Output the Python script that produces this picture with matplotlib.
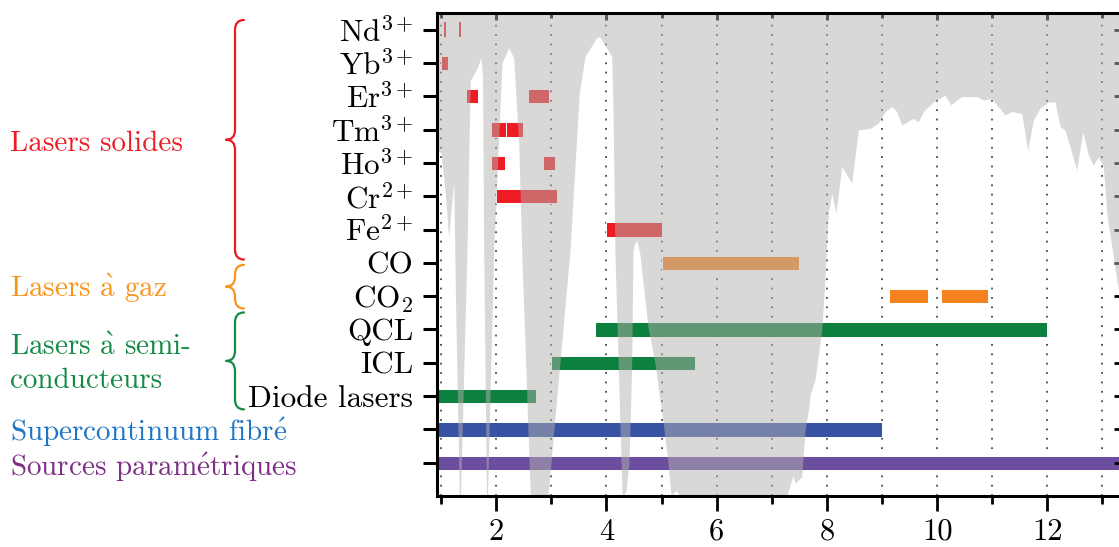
import numpy as np
import matplotlib
matplotlib.use("Agg")
import matplotlib.pyplot as plt
from matplotlib.path import Path
from matplotlib.patches import PathPatch
from matplotlib.ticker import MultipleLocator
import matplotlib.transforms as mtransforms

plt.rcParams['font.family'] = 'cmr10'
plt.rcParams['mathtext.fontset'] = 'cm'
plt.rcParams['axes.formatter.use_mathtext'] = False

# rows, top to bottom
categories = ['Nd$^{3+}$', 'Yb$^{3+}$', 'Er$^{3+}$', 'Tm$^{3+}$', 'Ho$^{3+}$',
              'Cr$^{2+}$', 'Fe$^{2+}$', 'CO', 'CO$_2$', 'QCL', 'ICL',
              'Diode lasers', '', '']

# emission ranges (micrometres) per row
nd_ranges = [(1.05, 1.08), (1.32, 1.365)]
yb_ranges = [(1.0, 1.12)]
er_ranges = [(1.45, 1.66), (2.58, 2.96)]
tm_ranges = [(1.9, 2.185), (2.185, 2.48)]
ho_ranges = [(1.9, 2.16), (2.84, 3.07)]
cr_ranges = [(1.99, 3.11)]
fe_ranges = [(3.99, 5.0)]
co_ranges = [(5.0, 7.5)]
co2_ranges = [(9.13, 9.83), (10.07, 10.93)]
qcl_ranges = [(3.8, 12.0)]
icl_ranges = [(3.0, 5.6)]
diode_ranges = [(0.4, 2.72)]
sc_ranges = [(0.4, 9.0)]
opo_ranges = [(0.4, 14.0)]

# atmospheric transmission (0..1)
trans_x = [0.90, 0.924, 0.996, 1.069, 1.136, 1.187, 1.227, 1.260, 1.328, 1.350,
           1.468, 1.528, 1.637, 1.722, 1.750, 1.771, 1.822, 1.840, 1.953, 2.103,
           2.225, 2.316, 2.407, 2.466, 2.617, 2.938, 3.338, 3.416, 3.506, 3.610,
           3.828, 3.882, 4.094, 4.118, 4.154, 4.281, 4.309, 4.354, 4.408, 4.457,
           4.481, 4.517, 4.554, 4.608, 4.753, 4.880, 5.044, 5.116, 5.171, 5.261,
           5.334, 7.270, 7.385, 7.421, 7.543, 7.603, 7.675, 7.693, 7.784, 7.906,
           7.965, 8.025, 8.087, 8.165, 8.268, 8.450, 8.570, 8.782, 8.933, 9.054,
           9.176, 9.267, 9.358, 9.568, 9.659, 9.750, 9.931, 10.143, 10.247, 10.446,
           10.719, 10.838, 10.991, 11.111, 11.232, 11.354, 11.535, 11.644, 11.746, 11.868,
           12.018, 12.140, 12.231, 12.321, 12.534, 12.643, 12.744, 12.835, 12.926, 13.016,
           13.078, 13.260, 13.41]
trans_t = [0.720, 0.716, 0.710, 0.634, 0.536, 0.602, 0.648, 0.406, 0.0, 0.0,
           0.509, 0.861, 0.882, 0.907, 0.867, 0.509, 0.0, 0.0, 0.509, 0.896,
           0.928, 0.907, 0.731, 0.489, 0.0, 0.0, 0.509, 0.661, 0.834, 0.910,
           0.950, 0.950, 0.910, 0.799, 0.499, 0.006, 0.0, 0.012, 0.068, 0.275,
           0.509, 0.524, 0.528, 0.499, 0.350, 0.275, 0.137, 0.068, 0.0, 0.012,
           0.0, 0.0, 0.043, 0.027, 0.040, 0.137, 0.185, 0.209, 0.240, 0.344,
           0.447, 0.586, 0.627, 0.586, 0.682, 0.648, 0.758, 0.761, 0.772, 0.796,
           0.806, 0.796, 0.768, 0.782, 0.775, 0.796, 0.816, 0.830, 0.810, 0.827,
           0.827, 0.820, 0.823, 0.806, 0.789, 0.796, 0.792, 0.716, 0.778, 0.803,
           0.816, 0.816, 0.765, 0.758, 0.675, 0.754, 0.706, 0.685, 0.702, 0.682,
           0.586, 0.447, 0.344]

red = '#ed1c24'
orange = '#f58220'
green = '#0d7f3e'
blue = '#3953a4'
purple = '#6b4ea0'

rows = [(nd_ranges, red), (yb_ranges, red), (er_ranges, red), (tm_ranges, red),
        (ho_ranges, red), (cr_ranges, red), (fe_ranges, red), (co_ranges, orange),
        (co2_ranges, orange), (qcl_ranges, green), (icl_ranges, green),
        (diode_ranges, green), (sc_ranges, blue), (opo_ranges, purple)]

XLIM = (0.924, 13.337)

fig = plt.figure(figsize=(11.19, 5.47), dpi=100)
rect = [437 / 1119, 1 - 496 / 547, (1121 - 437) / 1119, 483 / 547]

# base axes: bars, grid, left/bottom ticks
ax = fig.add_axes(rect)
for i, (ranges, col) in enumerate(rows):
    lw = 0 if i == 0 else 0.7
    for a, b in ranges:
        ax.barh(i, b - a, left=a, height=0.43, color=col, edgecolor='white',
                linewidth=lw, zorder=2)

ax.set_xlim(*XLIM)
ax.set_ylim(14, -0.5)
ax.set_yticks(range(len(categories)))
ax.set_yticklabels(categories)
ax.xaxis.set_major_locator(MultipleLocator(2))
ax.xaxis.set_minor_locator(MultipleLocator(1))
ax.set_axisbelow(True)
ax.xaxis.grid(True, which='both', linestyle=(0, (1, 4.2)), linewidth=1.3, color='#4a4a4a')
ax.tick_params(axis='y', direction='out', length=10, width=2.2, pad=7, labelsize=22.5)
ax.tick_params(axis='x', which='major', direction='out', length=11, width=2, pad=5, labelsize=22)
ax.tick_params(axis='x', which='minor', direction='out', length=6, width=2)
for s in ax.spines.values():
    s.set_visible(False)

# top/right inner ticks (sit under the absorption overlay)
axt = fig.add_axes(rect)
axt.patch.set_visible(False)
axt.set_xlim(*XLIM)
axt.set_ylim(14, -0.5)
axt.set_yticks(range(len(categories)))
axt.xaxis.set_major_locator(MultipleLocator(2))
axt.xaxis.set_minor_locator(MultipleLocator(1))
for s in axt.spines.values():
    s.set_visible(False)
axt.tick_params(axis='both', which='both', bottom=False, left=False, top=True, right=True,
                labelbottom=False, labelleft=False, direction='in', color='black')
axt.tick_params(axis='x', which='major', length=5, width=2.2)
axt.tick_params(axis='x', which='minor', length=3.5, width=2.2)
axt.tick_params(axis='y', length=5, width=2)

# atmospheric absorption overlay
axov = fig.add_axes(rect)
axov.patch.set_visible(False)
axov.set_xlim(*XLIM)
axov.set_ylim(0, 1)
axov.fill_between(trans_x, trans_t, 1, color='#b3b2ae', alpha=0.5, linewidth=0)
axov.set_xticks([])
axov.set_yticks([])
for s in axov.spines.values():
    s.set_linewidth(2.2)
    s.set_color('black')

# group labels on the left
blend = mtransforms.blended_transform_factory(fig.transFigure, ax.transData)
tx = 10 / 1119
fig.text(tx, 3.63, 'Lasers solides', color=red, fontsize=21, transform=blend, va='baseline')
fig.text(tx, 8.02, r'Lasers $\mathrm{\grave{a}}$ gaz', color='#f7941d', fontsize=21,
         transform=blend, va='baseline')
fig.text(tx, 9.76, r'Lasers $\mathrm{\grave{a}}$ semi-', color='#138a45', fontsize=21,
         transform=blend, va='baseline')
fig.text(tx, 10.77, 'conducteurs', color='#138a45', fontsize=21, transform=blend, va='baseline')
fig.text(tx, 12.34, r'Supercontinuum fibr$\mathrm{\acute{e}}$', color='#1f75c4', fontsize=21,
         transform=blend, va='baseline')
fig.text(tx, 13.39, r'Sources param$\mathrm{\acute{e}}$triques', color='#7d3086', fontsize=21,
         transform=blend, va='baseline')


def brace(y0, y1, color):
    xe, xl, xc = 244 / 1119, 235 / 1119, 226 / 1119
    r = 0.3
    ym = (y0 + y1) / 2
    verts = [(xe, y0), (xl, y0), (xl, y0 + r), (xl, ym - r), (xl, ym), (xc, ym),
             (xl, ym), (xl, ym + r), (xl, y1 - r), (xl, y1), (xe, y1)]
    codes = [Path.MOVETO, Path.CURVE3, Path.CURVE3, Path.LINETO, Path.CURVE3, Path.CURVE3,
             Path.CURVE3, Path.CURVE3, Path.LINETO, Path.CURVE3, Path.CURVE3]
    p = PathPatch(Path(verts, codes), transform=blend, fill=False, edgecolor=color,
                  linewidth=1.6, capstyle='round', joinstyle='round')
    fig.add_artist(p)


brace(-0.29, 6.90, red)
brace(7.06, 8.37, '#f7941d')
brace(8.49, 11.40, '#138a45')

fig.savefig('out.png', dpi=100)
